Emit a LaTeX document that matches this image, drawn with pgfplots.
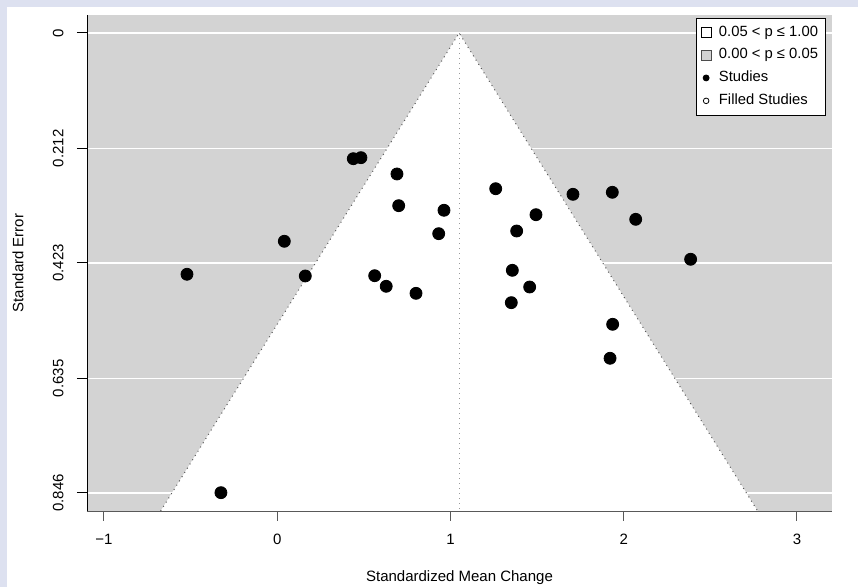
\documentclass[border=0pt]{standalone}
\usepackage{pgfplots}
\pgfplotsset{compat=1.18}
\usepackage{fontspec}
\setmainfont{Liberation Sans}
\definecolor{framecol}{HTML}{DDE1F0}
\definecolor{bggray}{HTML}{D3D3D3}
\begin{document}
\begin{tikzpicture}
\useasboundingbox (0,0) rectangle (429pt,293.5pt);
\fill[framecol] (0,0) rectangle (429pt,293.5pt);
\fill[white] (3.5pt,0) rectangle (429pt,290pt);
\begin{axis}[
  at={(43.5pt,38pt)}, anchor=south west,
  scale only axis, width=372.5pt, height=248pt,
  xmin=-1.098, xmax=3.202,
  ymin=-0.0331, ymax=0.8792, y dir=reverse,
  axis lines*=left, axis line style={-},
  x axis line style={black!65},
  y axis line style={black},
  axis background/.style={fill=bggray},
  ymajorgrids, grid style={white, line width=0.7pt},
  xtick={-1,0,1,2,3}, xticklabels={−1,0,1,2,3},
  ytick={0,0.212,0.423,0.635,0.846},
  yticklabels={0,0.212,0.423,0.635,0.846},
  tick align=outside, major tick length=5pt,
  x tick style={black!65, line width=0.5pt},
  y tick style={black, line width=0.5pt},
  tick label style={font=\fontsize{7.5}{9}\selectfont},
  xticklabel style={anchor=north, inner sep=0pt},
  xticklabel shift=6.5pt,
  yticklabel style={rotate=90, anchor=south, inner sep=0pt},
  yticklabel shift=6.5pt,
  xlabel={Standardized Mean Change},
  ylabel={Standard Error},
  label style={font=\fontsize{7.5}{9}\selectfont},
  xlabel style={at={(axis description cs:0.5,0)}, anchor=center, yshift=-33.5pt},
  ylabel style={at={(axis description cs:0,0.5)}, anchor=center, yshift=34.5pt},
  legend style={at={(rel axis cs:1,1)}, anchor=north east, xshift=-3pt, yshift=-1.5pt,
    draw=black, fill=white, font=\fontsize{7.4}{8.8}\selectfont,
    inner xsep=1.8pt, inner ysep=1.8pt, row sep=0.6pt, cells={anchor=west}},
  legend cell align=left,
  clip=true,
]
% white funnel region
\addplot[fill=white, draw=none, forget plot] coordinates {(-0.673,0.8792) (1.05,0) (2.773,0.8792)} -- cycle;
\addplot[dotted, black!65, line width=0.5pt, forget plot] coordinates {(-0.673,0.8792) (1.05,0) (2.773,0.8792)};
\addplot[dotted, black!40, line width=0.5pt, forget plot] coordinates {(1.05,0) (1.05,0.8792)};
% studies
\addplot[only marks, mark=*, mark size=3pt, black, forget plot] coordinates {
(-0.521,0.4438) (-0.325,0.8455) (0.041,0.3831) (0.162,0.4469) (0.439,0.2312)
(0.483,0.2293) (0.5625,0.4464) (0.629,0.4659) (0.691,0.2593) (0.701,0.3176)
(0.801,0.4788) (0.932,0.3691) (0.9625,0.3261) (1.261,0.2864) (1.382,0.3642)
(1.4935,0.3342) (1.357,0.4365) (1.457,0.4672) (1.351,0.4960) (1.707,0.2967)
(1.934,0.2930) (2.069,0.3427) (2.386,0.4162) (1.936,0.5358) (1.921,0.5983)
};
\addlegendimage{legend image code/.code={\path[draw=none,fill=none] (0pt,0pt) -- (7.5pt,0pt); \draw[fill=white, draw=black, line width=0.4pt] (0.5pt,-2.6pt) rectangle (5.7pt,2.6pt);}}
\addlegendentry{0.05 < p ≤ 1.00}
\addlegendimage{legend image code/.code={\path[draw=none,fill=none] (0pt,0pt) -- (7.5pt,0pt); \draw[fill=bggray, draw=black!70, line width=0.4pt] (0.5pt,-2.6pt) rectangle (5.7pt,2.6pt);}}
\addlegendentry{0.00 < p ≤ 0.05}
\addlegendimage{legend image code/.code={\path[draw=none,fill=none] (0pt,0pt) -- (7.5pt,0pt); \fill[black] (3.1pt,0pt) circle (1.5pt);}}
\addlegendentry{Studies}
\addlegendimage{legend image code/.code={\path[draw=none,fill=none] (0pt,0pt) -- (7.5pt,0pt); \draw[black, line width=0.4pt] (3.1pt,0pt) circle (1.4pt);}}
\addlegendentry{Filled Studies}
\end{axis}
\end{tikzpicture}
\end{document}
